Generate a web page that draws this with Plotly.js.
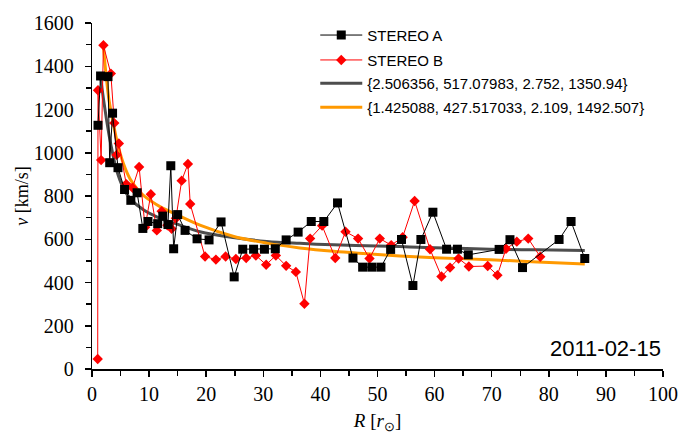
<!DOCTYPE html>
<html>
<head>
<meta charset="utf-8">
<script src="https://cdn.plot.ly/plotly-3.0.1.min.js"></script>
<style>html,body{margin:0;padding:0;background:#fff;}#chart{width:685px;height:434px;}</style>
</head>
<body>
<div id="chart"></div>
<script>
// STEREO A (black squares)
const stereoA_R = [1.05,1.5,2.8,3.1,3.6,4.55,5.7,6.8,7.9,8.9,9.8,11.5,12.4,13.3,13.8,14.3,15.0,16.3,18.4,20.5,22.6,24.9,26.4,28.3,30.2,32.1,34.0,36.1,38.4,40.6,43.0,45.7,47.4,49.0,50.6,52.3,54.2,56.2,57.6,59.7,62.1,64.0,65.9,71.3,73.2,75.4,81.8,83.9,86.3];
const stereoA_v = [1127,1355,1352,954,1183,931,830,780,815,650,682,672,707,668,940,556,714,641,602,597,680,426,554,554,554,556,597,633,682,682,768,513,471,471,471,553,599,386,599,725,554,554,528,553,598,469,599,682,511];
// STEREO B (red diamonds)
const stereoB_R = [1.0,1.05,1.6,2.0,3.3,3.9,4.3,4.7,6.0,7.1,8.25,9.3,10.3,11.35,12.2,13.2,13.95,14.7,15.7,16.8,17.2,19.8,21.7,23.4,25.2,27.0,28.7,30.5,32.2,34.0,35.7,37.2,38.2,40.3,42.6,44.4,46.6,48.6,50.4,52.4,54.4,56.5,59.2,61.2,62.7,64.2,66.0,69.3,71.0,72.5,74.4,76.4,78.5];
const stereoB_v = [46,1289,966,1497,1366,1137,990,1043,855,838,934,656,808,641,730,665,648,697,871,948,763,520,506,520,509,513,525,482,525,477,449,302,603,663,513,635,603,511,603,573,609,777,554,428,469,511,474,476,434,556,589,603,519];
// Fit curves
const fitA_R = [1.5,2.0,2.5,3.0,3.6,4.3,5.5,6.65,9.0,11.9,14.8,18.9,24.7,30.6,36.4,42.3,48.1,53.9,60,69.7,78,86.3];
const fitA_v = [1351,1250,1160,1080,1000,920,836,790,736,697,671,635,608,590,581,574,570,566,561,554,551,548];
const fitB_R = [2.0,2.5,3.0,3.7,4.5,5.5,6.65,8.0,9.0,11.9,14.8,18.9,24.7,30.6,36.4,42.3,48.1,53.9,60,69.7,78,86.3];
const fitB_v = [1492,1350,1240,1140,1040,950,880,830,803,751,714,665,614,582,560,544,533,523,515,505,495,486];
const legendNames = ["STEREO A","STEREO B","{2.506356, 517.07983, 2.752, 1350.94}","{1.425088, 427.517033, 2.109, 1492.507}"];
const dateLabel = "2011-02-15";

const traces = [
  {x: fitA_R, y: fitA_v, mode:'lines', line:{color:'#4d4d4d', width:3, shape:'spline'}, name: legendNames[2], legend:'legend3'},
  {x: fitB_R, y: fitB_v, mode:'lines', line:{color:'#ff9900', width:3, shape:'spline'}, name: legendNames[3], legend:'legend4'},
  {x: stereoB_R, y: stereoB_v, mode:'lines+markers', line:{color:'#ff0000', width:1}, marker:{symbol:'diamond', size:8, color:'#ff0000'}, name: legendNames[1], legend:'legend2'},
  {x: stereoA_R, y: stereoA_v, mode:'lines+markers', line:{color:'#000000', width:1}, marker:{symbol:'square', size:9, color:'#000000'}, name: legendNames[0], legend:'legend'}
];

const legFont = {family:'Liberation Sans', size:15, color:'#000'};
function leg(y){ return {x:0.391, xanchor:'left', y:y, yanchor:'middle', bgcolor:'rgba(0,0,0,0)', font:legFont, itemwidth:42}; }

const layout = {
  width:685, height:434,
  font:{family:'Liberation Serif', size:20, color:'#000'},
  margin:{l:92, r:22, t:23, b:65},
  paper_bgcolor:'#fff', plot_bgcolor:'#fff',
  showlegend:true,
  legend: leg(0.9645), legend2: leg(0.8925), legend3: leg(0.8252), legend4: leg(0.756),
  xaxis:{range:[0,100], dtick:10, tick0:0, ticks:'outside', ticklen:6, tickwidth:1.5, tickcolor:'#000',
    showline:true, linecolor:'#000', linewidth:1.5, showgrid:false, zeroline:false,
    tickfont:{family:'Liberation Serif', size:20, color:'#000'},
    minor:{dtick:5, ticks:'outside', ticklen:5, tickwidth:1.5, tickcolor:'#000', showgrid:false},
    title:{text:'<i>R</i> [<i>r</i><sub>⊙</sub>]', font:{family:'Liberation Serif', size:19, color:'#000'}, standoff:12}},
  yaxis:{range:[0,1600], dtick:200, tick0:0, ticks:'outside', ticklen:6, tickwidth:1.5, tickcolor:'#000',
    showline:true, linecolor:'#000', linewidth:1.5, showgrid:false, zeroline:false,
    tickfont:{family:'Liberation Serif', size:20, color:'#000'},
    ticksuffix:'\u00a0\u200a',
    minor:{dtick:100, ticks:'outside', ticklen:5, tickwidth:1.5, tickcolor:'#000', showgrid:false},
    title:{text:'<i>v</i> [km/s]', font:{family:'Liberation Serif', size:18, color:'#000'}, standoff:0}},
  annotations:[{text: dateLabel, xref:'paper', yref:'paper', x:1.0, y:0.06, xanchor:'right', yanchor:'middle', showarrow:false,
    font:{family:'Liberation Sans', size:22, color:'#000'}}]
};
Plotly.newPlot('chart', traces, layout, {displayModeBar:false, staticPlot:true});
</script>
</body>
</html>
